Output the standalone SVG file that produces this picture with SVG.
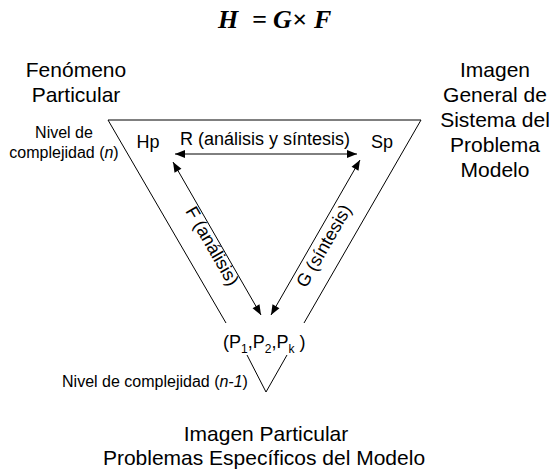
<svg xmlns="http://www.w3.org/2000/svg" width="551" height="470" viewBox="0 0 551 470">
<style>
text{font-family:"Liberation Sans",Arial,sans-serif;fill:#000}
.t{font-size:21px;text-anchor:middle}
.l{font-size:18px;text-anchor:middle}
.s{font-size:16px;text-anchor:middle}
.eq{font-family:"Liberation Serif","Times New Roman",serif;font-size:26px;font-weight:bold;font-style:italic}
.ln{stroke:#000;stroke-width:1;fill:none}
.sub{font-size:12px;fill:#000}
</style>
<defs>
<marker id="ah" viewBox="0 0 10 10" refX="10" refY="5" markerWidth="12" markerHeight="10" markerUnits="userSpaceOnUse" orient="auto-start-reverse">
<path d="M0,1 L10,5 L0,9 Z" fill="#000"/>
</marker>
</defs>
<rect width="551" height="470" fill="#fff"/>
<text class="eq" y="28"><tspan x="218">H</tspan><tspan x="252">=</tspan><tspan x="273">G</tspan><tspan x="292">×</tspan><tspan x="314">F</tspan></text>
<g id="fenomeno"><text class="t" x="76" y="77">Fenómeno</text><text class="t" x="76" y="102">Particular</text></g>
<g id="imagen-general"><text class="t" x="495" y="77">Imagen</text><text class="t" x="495" y="102">General de</text><text class="t" x="495" y="127">Sistema del</text><text class="t" x="495" y="152">Problema</text><text class="t" x="495" y="177">Modelo</text></g>
<g id="nivel-n"><text class="s" x="64" y="138">Nivel de</text><text class="s" x="64" y="158">complejidad (<tspan font-style="italic">n</tspan>)</text></g>
<g id="nivel-n1"><text class="s" x="155" y="387">Nivel de complejidad (<tspan font-style="italic">n-1</tspan>)</text></g>
<g id="imagen-particular"><text class="t" x="266" y="441">Imagen Particular</text><text class="t" x="264" y="465">Problemas Específicos del Modelo</text></g>
<g id="triangle">
<path class="ln" d="M226,323 L108,120 L421,120 L304,323"/>
<path class="ln" d="M247,355 L266,392 L287,355"/>
</g>
<g id="Hp"><text class="l" x="148" y="148">Hp</text></g>
<g id="Sp"><text class="l" x="382" y="148">Sp</text></g>
<g id="P"><text class="l" x="223" y="348" style="text-anchor:start">(P<tspan class="sub" dy="5">1</tspan><tspan dy="-5">,P</tspan><tspan class="sub" dy="5">2</tspan><tspan dy="-5">,P</tspan><tspan class="sub" dy="5">k</tspan><tspan dy="-5"> )</tspan></text></g>
<g id="connectors">
<line class="ln" x1="175" y1="154" x2="357" y2="154" marker-start="url(#ah)" marker-end="url(#ah)"/>
<line class="ln" x1="173" y1="162" x2="261" y2="315" marker-start="url(#ah)" marker-end="url(#ah)"/>
<line class="ln" x1="360" y1="160" x2="271" y2="315" marker-start="url(#ah)" marker-end="url(#ah)"/>
<text class="l" x="265" y="145">R (análisis y síntesis)</text>
<text class="l" transform="translate(207,249) rotate(60)">F (análisis)</text>
<text class="l" transform="translate(329,249) rotate(-60)">G (síntesis)</text>
</g>
</svg>
